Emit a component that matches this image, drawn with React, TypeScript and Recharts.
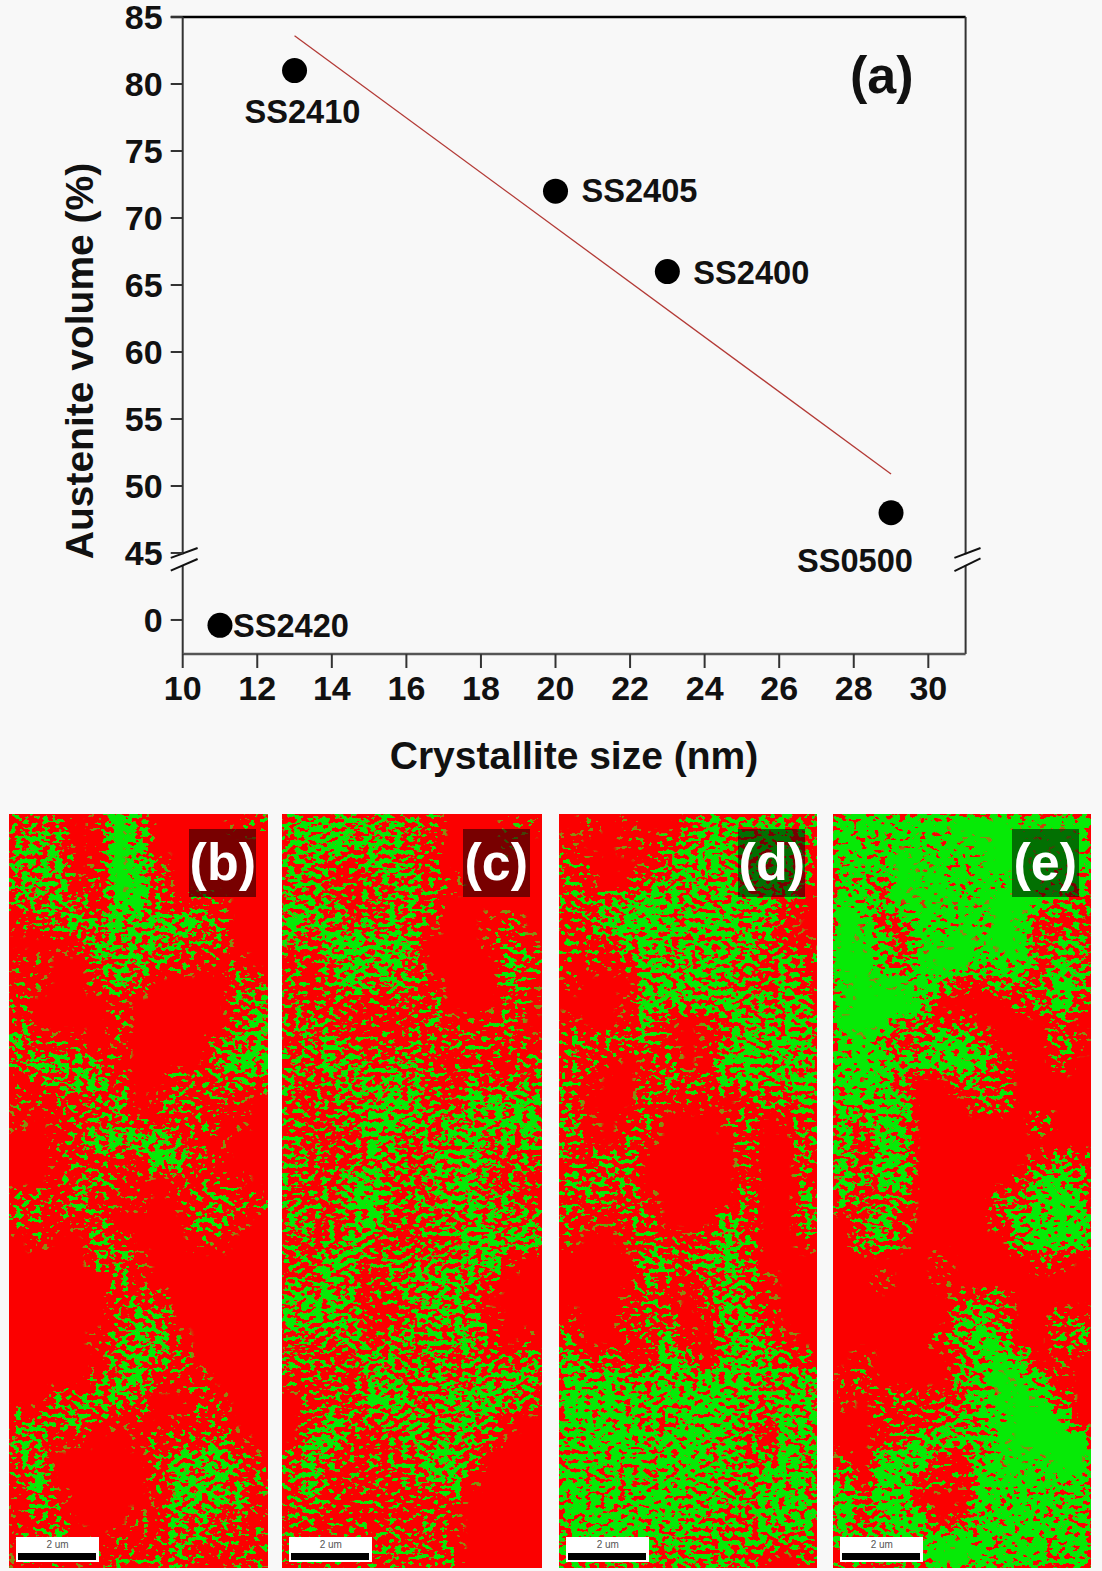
import {
  Label,
  ReferenceDot,
  ReferenceLine,
  Scatter,
  ScatterChart,
  XAxis,
  YAxis,
} from "recharts";

const SAMPLE_NAMES = ["SS2410", "SS2405", "SS2400", "SS0500", "SS2420"];
const CRYSTALLITE_NM = [13, 20, 23, 29, 11];
const AUSTENITE_PCT = [81, 72, 66, 48, -0.4];

const FIT_X = [13, 29];
const FIT_Y = [83.6, 50.9];

const X_TICKS = [10, 12, 14, 16, 18, 20, 22, 24, 26, 28, 30];
const Y_TICKS = [0, 45, 50, 55, 60, 65, 70, 75, 80, 85];

// green fraction of each map, read by eye on a 13 x 38 grid, 0 = all red, 9 = all green
const MAP_B = [
  "4430195000012", "4540196000000", "5550196100000", "5551298300000", "3453178212100", "1345465565200",
  "0012555543300", "1100455321110", "1100253000023", "2000010000035", "3000020000036", "6211010000245",
  "3555310000476", "1245520033343", "1123340142210", "1013441323110", "0013566631100", "0012221762100",
  "0013411011110", "3325111013432", "3211400004410", "0100420001100", "0000251000000", "0000031000000",
  "0000024200000", "0000025500000", "0000145510000", "0000045430000", "0000256112000", "0034544002100",
  "3344211011300", "5411001222410", "4400000355631", "2600000265543", "1510000165541", "1230001154431",
  "1351011153223", "1221232342122",
];
const MAP_C = [
  "5655454200011", "5565554200010", "4532554200000", "5431344210000", "5542345300000", "6544454100120",
  "4367565000131", "3156564000053", "3136454100041", "3222213300031", "3432112411230", "3453222333231",
  "4355345212113", "4335455224234", "3334565326556", "3233665454567", "4332653456445", "4322543556433",
  "3336633455332", "4336744456443", "5434633354544", "3335423345656", "4366244445610", "4363135554200",
  "5664134553000", "6564114555100", "4335244545201", "4323543444325", "2332554544565", "0233664456644",
  "0263345455410", "0562235454300", "3642333663000", "4522223561000", "3421221230000", "3312221310000",
  "3212233310000", "3333334420000",
];
const MAP_D = [
  "0101002655554", "1001124656663", "2100146655663", "3101455555662", "3345765566531", "2367765665510",
  "3225655555421", "2112655655352", "1000666654353", "0001655565455", "1001510145555", "3333410146565",
  "3210130167655", "4100242355456", "3000311101435", "5101300013013", "3103100003004", "3244000002003",
  "4433000003003", "4333100003005", "2113300052004", "1001311363001", "0000543563000", "0000421354100",
  "0001310354100", "1002320156200", "3002251055410", "5331165056532", "6665566676555", "7676666765466",
  "6776546765366", "6687567654166", "5767667654475", "7656567655666", "7765776655665", "7676666544666",
  "5666655555545", "6555545554102",
];
const MAP_E = [
  "8887889998888", "8768778899898", "7869887899888", "6649887879866", "8758888899754", "9834878798223",
  "9862889898255", "9963899678364", "8988862254275", "8999700002482", "9995423000030", "7852377400051",
  "7876778620020", "7873004420000", "6666000340000", "6475000000300", "6176000000000", "6266000000243",
  "6366000002674", "4343000044786", "0362000026787", "0461000006878", "0000010000210", "0010010000000",
  "0000002430000", "0000005730033", "0000025760035", "0100003686010", "1300004698610", "1023224689830",
  "0021145579980", "0014665689999", "1067711688899", "6077221788778", "7387000777767", "8267603678766",
  "5336588767777", "2554799778758",
];

const FONT = '"Liberation Sans", Arial, sans-serif';
const PAGE_BG = "#f8f8f8";
const RED = "#fb0000";
const GREEN = "#06ea06";
const OLIVE = "#8c8a12";
const AXIS = "#333333";

const GRID_COLS = 13;
const GRID_ROWS = 38;

// below the axis break the 0 tick sits just under 45 on the drawn scale
const broken = (v: number) => (v >= 45 ? v : v + 40);
const Y_BOTTOM = 37.46;

const samples = SAMPLE_NAMES.map((name, i) => ({
  name,
  x: CRYSTALLITE_NM[i],
  y: broken(AUSTENITE_PCT[i]),
}));
const fit = FIT_X.map((x, i) => ({ x, y: FIT_Y[i] }));

const LABEL_OFFSET: Record<string, [number, number]> = {
  SS2410: [-50, 52],
  SS2405: [26, 11],
  SS2400: [26, 12],
  SS0500: [-94, 59],
  SS2420: [13, 12],
};

const frameSegments = [
  [[9.68, 85], [31, 85]],
  [[10, 85], [10, 44.9]],
  [[10, 44.1], [10, Y_BOTTOM]],
  [[31, 85], [31, 44.9]],
  [[31, 44.1], [31, Y_BOTTOM]],
];
const breakSegments = [
  [[9.68, 44.63], [10.4, 45.37]],
  [[9.68, 43.68], [10.4, 44.55]],
  [[30.7, 44.63], [31.4, 45.37]],
  [[30.7, 43.65], [31.4, 44.6]],
];

function SampleDot(props: any) {
  const { cx, cy, payload } = props;
  const [dx, dy] = LABEL_OFFSET[payload.name];
  return (
    <g>
      <circle cx={cx} cy={cy} r={12.5} fill="#000" />
      <text x={cx + dx} y={cy + dy} fontFamily={FONT} fontWeight="bold" fontSize={32.6} fill="#111">
        {payload.name}
      </text>
    </g>
  );
}

function MainChart() {
  const tick = { fontFamily: FONT, fontWeight: "bold", fontSize: 34, fill: "#111" };
  return (
    <ScatterChart width={1102} height={800} margin={{ top: 17, right: 136.4, bottom: 0, left: 0 }}>
      <XAxis
        type="number"
        dataKey="x"
        domain={[10, 31]}
        ticks={X_TICKS}
        interval={0}
        height={146}
        tick={tick}
        tickSize={14}
        tickMargin={8}
        axisLine={{ stroke: "#555", strokeWidth: 2.5 }}
        tickLine={{ stroke: AXIS, strokeWidth: 2 }}
      >
        <Label
          content={() => (
            <text x={574} y={769} textAnchor="middle" fontFamily={FONT} fontWeight="bold" fontSize={39} fill="#111">
              Crystallite size (nm)
            </text>
          )}
        />
      </XAxis>
      <YAxis
        type="number"
        dataKey="y"
        domain={[Y_BOTTOM, 85]}
        allowDataOverflow
        ticks={Y_TICKS.map(broken)}
        interval={0}
        width={182.7}
        tick={tick}
        tickSize={12}
        tickMargin={8}
        tickFormatter={(v: number) => (v < 45 ? "0" : String(v))}
        axisLine={false}
        tickLine={{ stroke: AXIS, strokeWidth: 2 }}
      >
        <Label
          content={() => (
            <text
              x={93}
              y={361}
              transform="rotate(-90 93 361)"
              textAnchor="middle"
              fontFamily={FONT}
              fontWeight="bold"
              fontSize={39}
              fill="#111"
            >
              Austenite volume (%)
            </text>
          )}
        />
      </YAxis>
      {frameSegments.map((s, i) => (
        <ReferenceLine
          key={`frame-${i}`}
          ifOverflow="visible"
          segment={[{ x: s[0][0], y: s[0][1] }, { x: s[1][0], y: s[1][1] }]}
          stroke={i === 0 ? "#000" : AXIS}
          strokeWidth={i === 0 ? 2.5 : 2}
        />
      ))}
      {breakSegments.map((s, i) => (
        <ReferenceLine
          key={`break-${i}`}
          ifOverflow="visible"
          segment={[{ x: s[0][0], y: s[0][1] }, { x: s[1][0], y: s[1][1] }]}
          stroke="#111"
          strokeWidth={2}
        />
      ))}
      <Scatter data={fit} line={{ stroke: "#b33a36", strokeWidth: 1.3 }} shape={() => <g />} isAnimationActive={false} />
      <Scatter data={samples} shape={<SampleDot />} isAnimationActive={false} />
      <ReferenceDot
        x={28.75}
        y={80.7}
        r={0}
        ifOverflow="visible"
        label={{ value: "(a)", position: "center", fontFamily: FONT, fontWeight: "bold", fontSize: 52, fill: "#111" }}
      />
    </ScatterChart>
  );
}

// turns the painted density (alpha) into hard green/olive speckle on the red panel
function SpeckleFilter({ id, seed }: { id: string; seed: number }) {
  return (
    <filter id={id} x="0" y="0" width="100%" height="100%" colorInterpolationFilters="sRGB">
      <feGaussianBlur in="SourceAlpha" stdDeviation="4.5" result="density" />
      <feTurbulence type="fractalNoise" baseFrequency="0.15 0.22" numOctaves="2" seed={seed} result="noise" />
      <feColorMatrix in="noise" type="matrix" values="0 0 0 0 0  0 0 0 0 0  0 0 0 0 0  3 0 0 0 -1" result="grain" />
      <feComposite in="density" in2="grain" operator="arithmetic" k1="0" k2="1.15" k3="-1" k4="0.5" result="mix" />
      <feComponentTransfer in="mix" result="edgeMask">
        <feFuncA type="linear" slope="30" intercept="-15.3" />
      </feComponentTransfer>
      <feComponentTransfer in="mix" result="coreMask">
        <feFuncA type="linear" slope="30" intercept="-18" />
      </feComponentTransfer>
      <feFlood floodColor={OLIVE} result="oliveFill" />
      <feComposite in="oliveFill" in2="edgeMask" operator="in" result="edge" />
      <feFlood floodColor={GREEN} result="greenFill" />
      <feComposite in="greenFill" in2="coreMask" operator="in" result="core" />
      <feMerge>
        <feMergeNode in="edge" />
        <feMergeNode in="core" />
      </feMerge>
    </filter>
  );
}

function PhaseMap({
  id,
  rows,
  left,
  width,
  tag,
}: {
  id: string;
  rows: string[];
  left: number;
  width: number;
  tag: string;
}) {
  const top = 813.5;
  const height = 754.5;
  const cellW = width / GRID_COLS;
  const cellH = height / GRID_ROWS;
  const cells = rows
    .flatMap((row, r) => row.split("").map((ch, c) => ({ col: c + 0.5, row: r + 0.5, level: Number(ch) })))
    .filter((d) => d.level > 0);

  return (
    <div style={{ position: "absolute", left, top, width, height, background: RED, overflow: "hidden" }}>
      <ScatterChart
        width={width}
        height={height}
        margin={{ top: 0, right: 0, bottom: 0, left: 0 }}
        style={{ filter: `url(#${id})` }}
      >
        <XAxis type="number" dataKey="col" domain={[0, GRID_COLS]} hide />
        <YAxis type="number" dataKey="row" domain={[0, GRID_ROWS]} reversed hide />
        <Scatter
          data={cells}
          isAnimationActive={false}
          shape={(p: any) => (
            <rect
              x={p.cx - cellW / 2}
              y={p.cy - cellH / 2}
              width={cellW}
              height={cellH}
              fill="#000"
              fillOpacity={p.payload.level / 9}
              shapeRendering="crispEdges"
            />
          )}
        />
      </ScatterChart>
      <div
        style={{
          position: "absolute",
          left: width - 79,
          top: 15,
          width: 67,
          height: 68,
          background: "rgba(0,0,0,0.52)",
          color: "#fff",
          fontFamily: FONT,
          fontWeight: "bold",
          fontSize: 52,
          lineHeight: "66px",
          textAlign: "center",
        }}
      >
        {tag}
      </div>
      <div style={{ position: "absolute", left: 7, top: 723.5, width: 83, height: 25, background: "#fff" }}>
        <div
          style={{
            textAlign: "center",
            fontFamily: FONT,
            fontSize: 10,
            lineHeight: "16px",
            color: "#555",
          }}
        >
          2 um
        </div>
        <div style={{ position: "absolute", left: 2, top: 16, width: 78, height: 7, background: "#000" }} />
      </div>
    </div>
  );
}

export default function App() {
  return (
    <div style={{ position: "absolute", left: 0, top: 0, width: 1102, height: 1571, background: PAGE_BG }}>
      <svg width={0} height={0} style={{ position: "absolute" }}>
        <defs>
          <SpeckleFilter id="map-b" seed={3} />
          <SpeckleFilter id="map-c" seed={11} />
          <SpeckleFilter id="map-d" seed={23} />
          <SpeckleFilter id="map-e" seed={37} />
        </defs>
      </svg>
      <MainChart />
      <PhaseMap id="map-b" rows={MAP_B} left={9} width={259.3} tag="(b)" />
      <PhaseMap id="map-c" rows={MAP_C} left={282.3} width={259.4} tag="(c)" />
      <PhaseMap id="map-d" rows={MAP_D} left={559.3} width={258} tag="(d)" />
      <PhaseMap id="map-e" rows={MAP_E} left={833.3} width={257.4} tag="(e)" />
    </div>
  );
}
